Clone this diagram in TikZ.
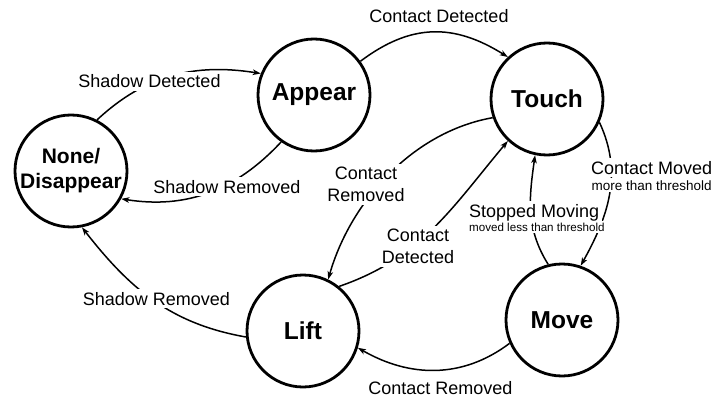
\documentclass[tikz,border=0pt]{standalone}
\usepackage{fontspec}
\setmainfont{Liberation Sans}
\usetikzlibrary{arrows.meta}
\begin{document}
\begin{tikzpicture}[x=1pt,y=1pt,
  state/.style={circle,draw,line width=2.8pt,minimum size=112pt,inner sep=0pt,
    font=\bfseries\fontsize{24.5}{28}\selectfont,align=center},
  trans/.style={line width=1.5pt,-{Stealth[length=8pt,width=5.5pt,inset=2pt]}},
  lbl/.style={fill=white,inner sep=3pt,font=\fontsize{18}{22}\selectfont,align=center},
  sub/.style={fill=white,inner sep=2pt},
]
\useasboundingbox (0,0) rectangle (712,397);
% states
\node[state,font=\bfseries\fontsize{21}{25}\selectfont] (none) at (71,226) {None/\\Disappear};
\node[state] (appear) at (314,302) {Appear};
\node[state] (touch) at (547,298) {Touch};
\node[state] (move) at (562,77) {Move};
\node[state] (lift) at (303,66) {Lift};
% transitions
\draw[trans] (none.63) to[out=43,in=171] (appear.158.5);
\draw[trans] (appear.235) to[out=227,in=351] (none.331);
\draw[trans] (appear.36) to[out=37,in=148,looseness=1.1] (touch.133);
\draw[trans] (touch.199) to[out=190,in=74,looseness=0.9] (lift.64);
\draw[trans] (lift.51.5) to[out=19,in=230] (touch.227);
\draw[trans] (touch.336) to[out=295,in=61] (move.71);
\draw[trans] (move.104) to[out=122,in=262] (touch.258);
\draw[trans] (move.204) to[out=217,in=330] (lift.343);
\draw[trans] (lift.186) to[out=170,in=308] (none.281.5);
% labels
\node[lbl,anchor=base] (l1) at (149.5,309) {Shadow Detected};
\node[lbl,anchor=base] (l2) at (227,204) {Shadow Removed};
\node[lbl,anchor=base] (l3) at (439,374) {Contact Detected};
\node[lbl] (l4) at (366,212.5) {Contact\\Removed};
\node[lbl] (l5) at (418,150.5) {Contact\\Detected};
\node[lbl,anchor=base west] (l6a) at (588,223) {Contact Moved};
\node[sub,anchor=base west,font=\fontsize{13.5}{16}\selectfont] (l6b) at (589.5,207) {more than threshold};
\node[lbl,anchor=base west] (l7a) at (466,180) {Stopped Moving};
\node[sub,anchor=base west,font=\fontsize{11.6}{14}\selectfont] (l7b) at (467,166) {moved less than threshold};
\node[lbl,anchor=base] (l8) at (440.5,3) {Contact Removed};
\node[lbl,anchor=base] (l9) at (156.5,92) {Shadow Removed};
\end{tikzpicture}
\end{document}
